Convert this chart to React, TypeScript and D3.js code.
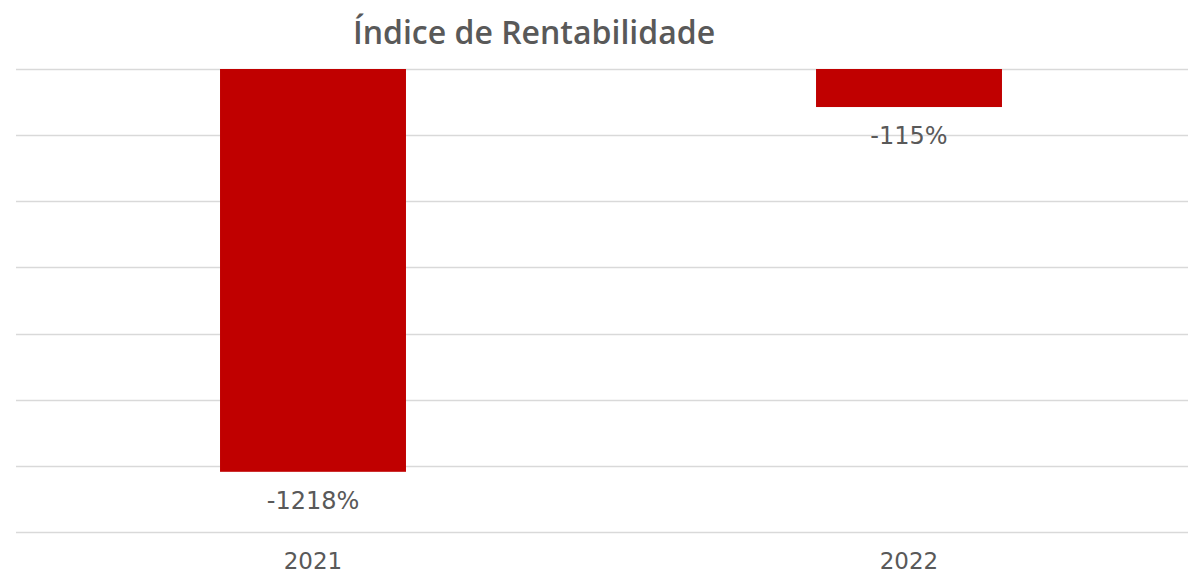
import React, { useEffect, useRef } from "react";
import * as d3 from "d3";

const years = ["2021", "2022"];
const rentabilidade = [-1218, -115];
const gridTicks = [0, -200, -400, -600, -800, -1000, -1200, -1400];

const WIDTH = 1188;
const HEIGHT = 576;

export default function App() {
  const ref = useRef<SVGSVGElement>(null);

  useEffect(() => {
    if (!ref.current) return;
    const svg = d3.select(ref.current);
    svg.selectAll("*").remove();

    const x = d3
      .scaleBand()
      .domain(years)
      .range([15, 1207])
      .paddingInner(0.688)
      .paddingOuter(0.344);

    const y = d3.scaleLinear().domain([0, -1400]).range([69, 532]);

    // gridlines
    svg
      .append("g")
      .selectAll("line")
      .data(gridTicks)
      .join("line")
      .attr("x1", 16)
      .attr("x2", WIDTH)
      .attr("y1", (d) => Math.round(y(d)) + 0.5)
      .attr("y2", (d) => Math.round(y(d)) + 0.5)
      .attr("stroke", "#d9d9d9")
      .attr("stroke-width", 1.5);

    const data = years.map((yr, i) => ({ yr, v: rentabilidade[i] }));

    // bars
    svg
      .append("g")
      .selectAll("rect")
      .data(data)
      .join("rect")
      .attr("x", (d) => x(d.yr) || 0)
      .attr("y", y(0))
      .attr("width", x.bandwidth())
      .attr("height", (d) => y(d.v) - y(0))
      .attr("fill", "#c00000");

    // value labels
    svg
      .append("g")
      .selectAll("text")
      .data(data)
      .join("text")
      .attr("x", (d) => (x(d.yr) || 0) + x.bandwidth() / 2)
      .attr("y", (d) => y(d.v) + 37)
      .attr("text-anchor", "middle")
      .style("font-family", "'DejaVu Sans', sans-serif")
      .style("font-size", "24px")
      .style("fill", "#595959")
      .text((d) => `${d.v}%`);

    // category axis labels
    svg
      .append("g")
      .selectAll("text")
      .data(years)
      .join("text")
      .attr("x", (d) => (x(d) || 0) + x.bandwidth() / 2)
      .attr("y", 569)
      .attr("text-anchor", "middle")
      .style("font-family", "'DejaVu Sans', sans-serif")
      .style("font-size", "23px")
      .style("fill", "#595959")
      .text((d) => d);

    // title
    svg
      .append("text")
      .attr("x", 534)
      .attr("y", 44)
      .attr("text-anchor", "middle")
      .style("font-family", "'Open Sans', sans-serif")
      .style("font-size", "32px")
      .style("font-weight", "600")
      .style("fill", "#595959")
      .text("Índice de Rentabilidade");
  }, []);

  return (
    <svg
      ref={ref}
      width={WIDTH}
      height={HEIGHT}
      style={{ position: "absolute", left: 0, top: 0, background: "#fff" }}
    />
  );
}
